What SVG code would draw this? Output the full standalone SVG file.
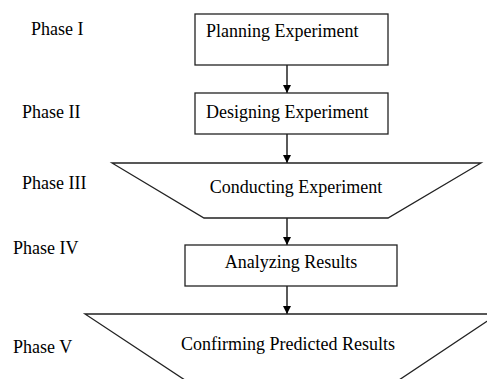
<svg xmlns="http://www.w3.org/2000/svg" width="487" height="379" viewBox="0 0 487 379">
<style>
text{font-family:"Liberation Serif","Times New Roman",serif;font-size:18px;fill:#000}
.s{fill:#fff;stroke:#222;stroke-width:1.3}
.c{stroke:#000;stroke-width:1.3;fill:none}
</style>
<defs>
<marker id="ah" viewBox="0 0 10 10" refX="10" refY="5" markerWidth="8" markerHeight="8" markerUnits="userSpaceOnUse" orient="auto">
<path d="M0,0L10,5L0,10z" fill="#000"/>
</marker>
</defs>
<rect width="487" height="379" fill="#fff"/>
<g id="labels">
<text x="31" y="35">Phase I</text>
<text x="22" y="118">Phase II</text>
<text x="22" y="189">Phase III</text>
<text x="13" y="254">Phase IV</text>
<text x="13" y="353">Phase V</text>
</g>
<g id="connectors">
<line class="c" x1="287" y1="65" x2="287" y2="93" marker-end="url(#ah)"/>
<line class="c" x1="287" y1="134" x2="287" y2="163" marker-end="url(#ah)"/>
<line class="c" x1="287" y1="218" x2="287" y2="245" marker-end="url(#ah)"/>
<line class="c" x1="287" y1="286" x2="287" y2="314" marker-end="url(#ah)"/>
</g>
<g id="n1">
<rect class="s" x="195" y="14" width="193" height="51"/>
<text x="206" y="37">Planning Experiment</text>
</g>
<g id="n2">
<rect class="s" x="195" y="93" width="193" height="41"/>
<text x="206" y="118">Designing Experiment</text>
</g>
<g id="n3">
<polygon class="s" points="112,163 481,163 388,218 204,218"/>
<text x="296" y="193" text-anchor="middle">Conducting Experiment</text>
</g>
<g id="n4">
<rect class="s" x="185" y="245" width="212" height="41"/>
<text x="291" y="268" text-anchor="middle">Analyzing Results</text>
</g>
<g id="n5">
<polygon class="s" points="85,314 498,314 384,390 200,390"/>
<text x="288" y="350" text-anchor="middle">Confirming Predicted Results</text>
</g>
</svg>
